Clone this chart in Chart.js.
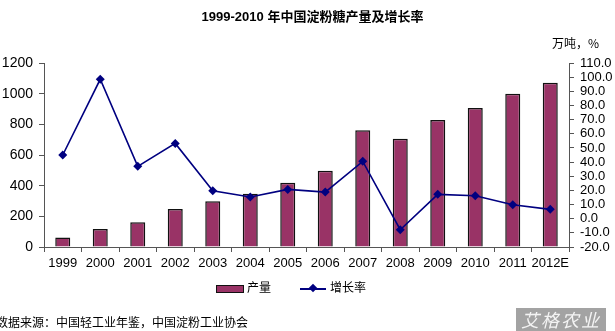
<!DOCTYPE html>
<html>
<head>
<meta charset="utf-8">
<script src="https://cdn.jsdelivr.net/npm/chart.js@4.4.1/dist/chart.umd.min.js"></script>
<style>
  html, body { margin: 0; padding: 0; background: #fff; }
  #wrap { position: relative; width: 615px; height: 331px; overflow: hidden; font-family: "Liberation Sans", Arial, "Noto Sans CJK SC", sans-serif; }
  #chart { position: absolute; left: 0; top: 0; }
  .txt { position: absolute; white-space: nowrap; color: #000; }
  #title { left: 5px; width: 615px; top: 6px; text-align: center; font-weight: bold; font-size: 13px; font-family: "Liberation Sans", "Noto Sans CJK SC", sans-serif; }
  #unit { left: 552px; top: 34px; font-size: 12px; font-family: "Noto Sans CJK SC", sans-serif; }
  #legend { left: 216px; top: 278px; font-size: 12px; font-family: "Noto Sans CJK SC", sans-serif; }
  #source { left: -4px; top: 313px; font-size: 12px; font-family: "Noto Sans CJK SC", sans-serif; }
  #mark { position: absolute; left: 516px; top: 308px; width: 90px; height: 23px; background: #a3a3a3; color: #f4f4f4; font-size: 18px; line-height: 23px; text-align: center; font-style: italic; letter-spacing: 2px; font-family: "Noto Sans CJK SC", sans-serif; }
  .sw { display: inline-block; vertical-align: middle; }
</style>
</head>
<body>
<div id="wrap">
  <canvas id="chart" width="615" height="331"></canvas>
  <div class="txt" id="title">1999-2010 年中国淀粉糖产量及增长率</div>
  <div class="txt" id="unit">万吨，%</div>
  <div class="txt" id="legend"></div>
  <div class="txt" id="source">数据来源：中国轻工业年鉴，中国淀粉工业协会</div>
  <div id="mark">艾格农业</div>
</div>
<script>
// Years shown on the category axis
const years = ['1999', '2000', '2001', '2002', '2003', '2004', '2005', '2006', '2007', '2008', '2009', '2010', '2011', '2012E'];
// Starch sugar output, 10k tonnes
const output = [62, 117, 161, 248, 298, 348, 419, 498, 761, 706, 828, 906, 1000, 1071];
// Year-on-year growth rate, %
const growth = [45.0, 98.5, 37.0, 53.2, 19.8, 15.3, 20.7, 18.8, 40.5, -7.8, 17.2, 16.2, 9.9, 6.6];

const seriesNames = ['产量', '增长率'];
const barColor = '#993366';
const lineColor = '#000080';

const tickFamily = '"Liberation Sans", Arial, sans-serif';

new Chart(document.getElementById('chart'), {
  data: {
    labels: years,
    datasets: [
      {
        type: 'line',
        label: seriesNames[1],
        data: growth,
        yAxisID: 'yR',
        borderColor: lineColor,
        backgroundColor: lineColor,
        borderWidth: 1.6,
        pointStyle: 'rectRot',
        pointRadius: 4.5,
        pointBorderWidth: 0,
        pointBackgroundColor: lineColor,
        tension: 0,
        order: 0
      },
      {
        type: 'bar',
        label: seriesNames[0],
        data: output,
        yAxisID: 'yL',
        backgroundColor: barColor,
        borderColor: '#111',
        borderWidth: 1.5,
        barPercentage: 0.4,
        categoryPercentage: 1.0,
        order: 1
      }
    ]
  },
  options: {
    responsive: false,
    animation: false,
    layout: { padding: { top: 63, bottom: 0, left: 0, right: 0 } },
    plugins: { legend: { display: false }, tooltip: { enabled: false } },
    scales: {
      x: {
        offset: true,
        grid: { display: true, offset: true, drawOnChartArea: false, color: '#555', tickLength: 5 },
        border: { color: '#555', width: 1 },
        ticks: { color: '#000', font: { family: tickFamily, size: 13 }, padding: 4, maxRotation: 0, autoSkip: false },
        afterFit: s => { s.height = 84; }
      },
      yL: {
        position: 'left',
        min: 0, max: 1200,
        ticks: { stepSize: 200, color: '#000', font: { family: tickFamily, size: 14 }, padding: 6, callback: v => String(v) },
        grid: { display: true, drawOnChartArea: false, color: '#555', tickLength: 5 },
        border: { color: '#555', width: 1 },
        afterFit: s => { s.width = 44; }
      },
      yR: {
        position: 'right',
        min: -20, max: 110,
        ticks: { stepSize: 10, autoSkip: false, color: '#000', font: { family: tickFamily, size: 13 }, padding: 6, callback: v => v.toFixed(1) },
        grid: { display: true, drawOnChartArea: false, color: '#555', tickLength: 5 },
        border: { color: '#555', width: 1 },
        afterFit: s => { s.width = 46; }
      }
    }
  }
});

// Legend row under the axis
const legend = document.getElementById('legend');
legend.innerHTML =
  '<span class="sw" style="width:26px;height:6px;background:' + barColor + ';border:1.5px solid #111;"></span>' +
  '<span style="margin-left:3px;">' + seriesNames[0] + '</span>' +
  '<span class="sw" style="position:relative;width:26px;height:2px;background:' + lineColor + ';margin-left:29px;">' +
  '<span style="position:absolute;left:10px;top:-3px;width:6px;height:6px;background:' + lineColor + ';transform:rotate(45deg);"></span></span>' +
  '<span style="margin-left:4px;">' + seriesNames[1] + '</span>';
</script>
</body>
</html>
